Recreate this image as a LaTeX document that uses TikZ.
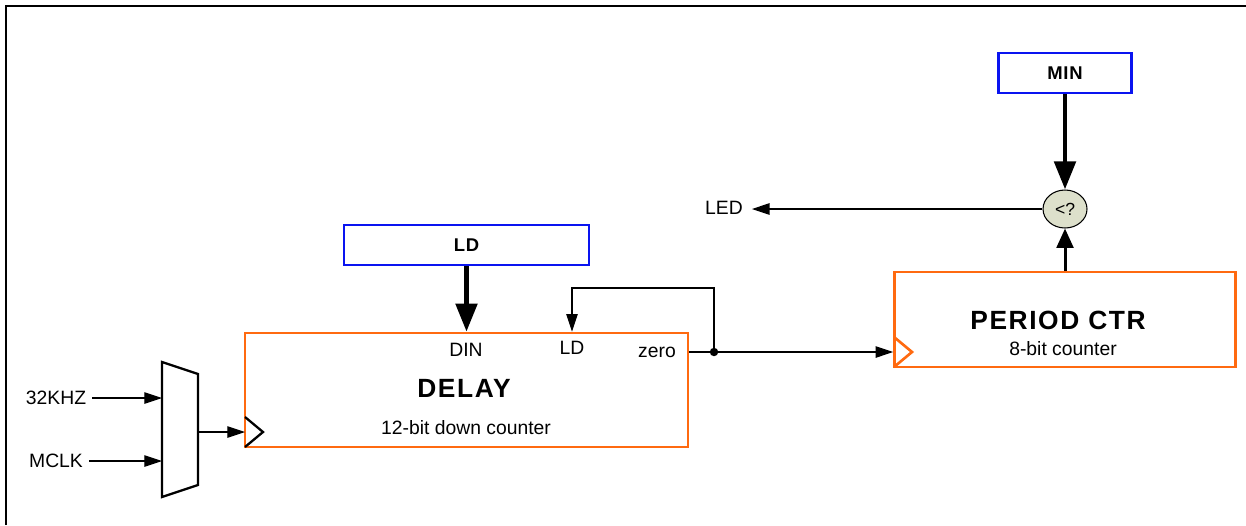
\documentclass[tikz,border=0pt]{standalone}
\usepackage{fontspec}
\setmainfont{Liberation Sans}
\usepackage{xcolor}
\usetikzlibrary{shapes,arrows.meta,positioning}
\definecolor{regorange}{HTML}{FF6A10}
\definecolor{constblue}{HTML}{0A14F0}
\definecolor{cmpfill}{HTML}{DDE0CB}

\begin{document}
\begin{tikzpicture}[x=0.02cm,y=-0.02cm,
  font=\fontsize{11}{13}\selectfont,
  regbox/.style={draw=regorange,line width=1.5pt,inner sep=0pt},
  constbox/.style={draw=constblue,line width=1.5pt,inner sep=0pt,
    minimum height=0.8cm,font=\fontsize{10.5}{12}\selectfont\bfseries\addfontfeature{LetterSpace=4}},
  regname/.style={font=\fontsize{15}{18}\selectfont\bfseries\addfontfeature{LetterSpace=6}},
  cmpnode/.style={ellipse,draw,fill=cmpfill,line width=0.6pt,inner sep=0pt,
    minimum width=0.88cm,minimum height=0.76cm,font=\fontsize{10}{11}\selectfont},
  thinarrow/.style={line width=0.6pt,-{Triangle[length=10pt,width=6.5pt]}},
  medarrow/.style={line width=1.7pt,-{Triangle[length=11pt,width=9.5pt]}},
  thickarrow/.style={line width=2.8pt,-{Triangle[length=16pt,width=12pt]}}]
\useasboundingbox (0,0) rectangle (1246,525);
% frame (left and top only)
\draw[line width=1.7pt] (6,525) -- (6,6) -- (1246,6);

% compare stage
\node[constbox,minimum width=2.66cm] (min) at (1065,73) {MIN};
\node[cmpnode] (cmp) at (1065,209) {<?};
\node[inner sep=5pt] (led) at (724,208) {LED};
\node[regbox,minimum width=6.82cm,minimum height=1.9cm] (period) at (1065,319.5) {};
\node[regname] (periodname) at (1058,320) {PERIOD CTR};
\node (periodsub) at (1063,349) {8-bit counter};
\draw[regorange,line width=1.5pt] (894,337) -- (912,352) -- (894,367);

% delay counter
\node[constbox,minimum width=4.9cm] (ld) at (466.5,245) {LD};
\node[regbox,minimum width=8.86cm,minimum height=2.28cm] (delay) at (466.5,390) {};
\node[regname] (delayname) at (464,388) {DELAY};
\node (delaysub) at (466,428) {12-bit down counter};
\node (din) at (466,350) {DIN};
\node (ldin) at (572,348) {LD};
\node (zero) at (657,352) {zero};
\draw[line width=1.3pt] (245,417) -- (263,432) -- (245,447);

% clock mux
\draw[line width=1.3pt] (162,362) -- (198,374) -- (198,485) -- (162,497) -- cycle;
\coordinate (muxout) at (198,432);
\coordinate (clk) at (245,432);
\foreach \name/\txt/\y in {khz/32KHZ/398, mclk/MCLK/461} {
    \coordinate (\name in) at (162,\y);
    \node (\name) at (56,\y) {\txt};
    \draw[thinarrow] (\name) -- (\name in);
}
\draw[thinarrow] (muxout) -- (clk);

% connections
\draw[thickarrow] (min.south) -- (cmp.north);
\draw[medarrow] (period.north) -- (cmp.south);
\draw[thinarrow] (cmp.west) -- (cmp.west -| led.east);
\draw[thickarrow] (ld.south) -- (ld.south |- delay.north);
\coordinate (tap) at (714,352);
\draw[thinarrow] (zero.east -| delay.east) -- (zero.east -| period.west);
\fill (tap) circle[radius=2.4pt];
\draw[thinarrow] (tap) -- ++(0,-64) -| (ldin.north |- delay.north);
\end{tikzpicture}
\end{document}
